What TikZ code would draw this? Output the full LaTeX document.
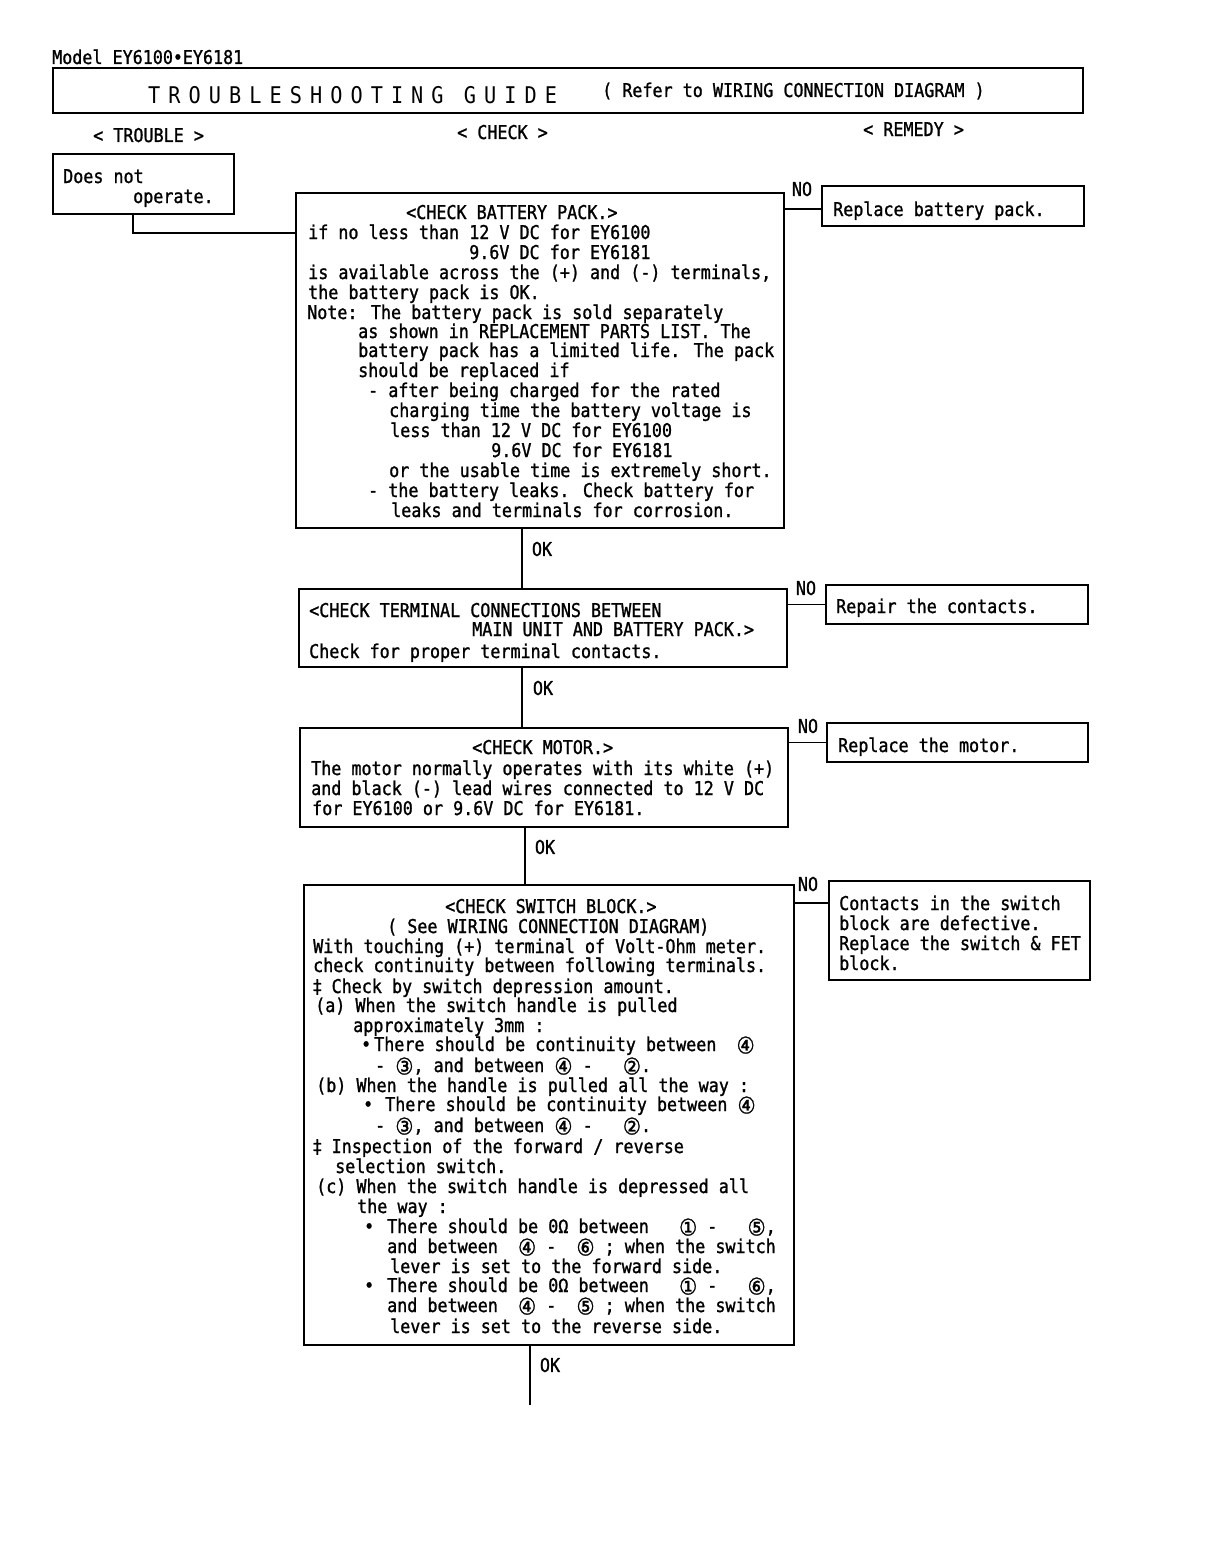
\documentclass[tikz,border=0pt]{standalone}
\usepackage{fontspec}
\newfontfamily\mono{DejaVu Sans Mono}[FakeStretch=0.88,FakeBold=1.2]
\newfontfamily\titlef{DejaVu Sans Mono}[FakeStretch=0.88,LetterSpace=35]
\newfontfamily\symf{DejaVu Sans}[FakeStretch=0.88,FakeBold=1.2]
\newcommand\cd[1]{{\symf #1}}
\newcommand\cn[1]{\smash{\raisebox{-2.5pt}{\symf\fontsize{23pt}{20pt}\selectfont #1}}}
\newcounter{lncnt}
\newcommand\tline[3]{\stepcounter{lncnt}\node[txt] (L\arabic{lncnt}) at (#1,#2) {#3};}
\tikzset{
  box/.style={draw, line width=1.4pt, inner sep=0pt, outer sep=0pt, anchor=north west},
  ln/.style={line width=1.2pt},
  txt/.style={anchor=base west, inner sep=0pt, font=\mono\fontsize{19pt}{20pt}\selectfont},
  lbl/.style={inner sep=0pt, font=\mono\fontsize{19pt}{20pt}\selectfont}
}
\begin{document}
\begin{tikzpicture}[x=1pt,y=-1pt]
\useasboundingbox (0,0) rectangle (1208,1552);
% header
\tline{52}{64}{Model EY6100\cd{•}EY6181}
\node[box, minimum width=1030pt, minimum height=45pt] (title) at (53,68) {};
\node[anchor=base west, inner sep=0pt, font=\titlef\fontsize{23pt}{24pt}\selectfont] (ttl) at (148,104) {TROUBLESHOOTING GUIDE};
\tline{602}{97}{( Refer to WIRING CONNECTION DIAGRAM )}
\tline{93}{142}{< TROUBLE >}
\tline{457}{139}{< CHECK >}
\tline{863}{136}{< REMEDY >}
% trouble
\node[box, line width=1.8pt, minimum width=181pt, minimum height=60pt] (t) at (53,154) {};
\tline{63}{183}{Does not}
\tline{133}{203}{operate.}
% boxes
\node[box, minimum width=488pt, minimum height=335pt] (b1) at (296,193) {};
\node[box, minimum width=488pt, minimum height=78pt] (b2) at (299,589) {};
\node[box, minimum width=488pt, minimum height=99pt] (b3) at (300,728) {};
\node[box, minimum width=490pt, minimum height=460pt] (b4) at (304,885) {};
\node[box, minimum width=262pt, minimum height=40pt] (r1) at (822,186) {};
\node[box, minimum width=262pt, minimum height=39pt] (r2) at (826,585) {};
\node[box, minimum width=261pt, minimum height=39pt] (r3) at (827,723) {};
\node[box, minimum width=261pt, minimum height=99pt] (r4) at (829,881) {};
% connectors
\coordinate (tj) at (133,233);
\draw[ln] (t.south -| tj) -- (tj) -- (b1.west |- tj);
\coordinate (k1) at (522,0);
\coordinate (k3) at (525,0);
\coordinate (k4) at (530,0);
\coordinate (endc) at (530,1405);
\draw[ln] (b1.south -| k1) -- (b2.north -| k1);
\draw[ln] (b2.south -| k1) -- (b3.north -| k1);
\draw[ln] (b3.south -| k3) -- (b4.north -| k3);
\draw[ln] (b4.south -| k4) -- (endc);
\coordinate (n1) at (0,209);
\coordinate (n4) at (0,903);
\draw[ln] (b1.east |- n1) -- (r1.west |- n1);
\draw[ln] (b2.east |- r2.west) -- (r2.west);
\draw[ln] (b3.east |- r3.west) -- (r3.west);
\draw[ln] (b4.east |- n4) -- (r4.west |- n4);
\node[lbl] (no1) at (802,189) {NO};
\node[lbl] (no2) at (806,588) {NO};
\node[lbl] (no3) at (808,726) {NO};
\node[lbl] (no4) at (808,884) {NO};
\node[lbl] (ok1) at (542,549) {OK};
\node[lbl] (ok2) at (543,688) {OK};
\node[lbl] (ok3) at (545,847) {OK};
\node[lbl] (ok4) at (550,1365) {OK};
% remedy texts
\tline{833}{216}{Replace battery pack.}
\tline{836}{613}{Repair the contacts.}
\tline{838}{752}{Replace the motor.}
\tline{839}{910}{Contacts in the switch}
\tline{839}{930}{block are defective.}
\tline{839}{950}{Replace the switch \& FET}
\tline{839}{970}{block.}
% box1 text
\tline{406}{219}{<CHECK BATTERY PACK.>}
\tline{308}{239}{if no less than 12 V DC for EY6100}
\tline{469}{259}{9.6V DC for EY6181}
\tline{308}{279}{is available across the (+) and (-) terminals,}
\tline{308}{299}{the battery pack is OK.}
\tline{307}{319}{Note: The battery pack is sold separately}
\tline{358}{338}{as shown in REPLACEMENT PARTS LIST. The}
\tline{358}{357}{battery pack has a limited life. The pack}
\tline{358}{377}{should be replaced if}
\tline{368}{397}{- after being charged for the rated}
\tline{389}{417}{charging time the battery voltage is}
\tline{390}{437}{less than 12 V DC for EY6100}
\tline{491}{457}{9.6V DC for EY6181}
\tline{389}{477}{or the usable time is extremely short.}
\tline{368}{497}{- the battery leaks. Check battery for}
\tline{391}{517}{leaks and terminals for corrosion.}
% box2 text
\tline{309}{617}{<CHECK TERMINAL CONNECTIONS BETWEEN}
\tline{472}{636}{MAIN UNIT AND BATTERY PACK.>}
\tline{309}{658}{Check for proper terminal contacts.}
% box3 text
\tline{472}{754}{<CHECK MOTOR.>}
\tline{311}{775}{The motor normally operates with its white (+)}
\tline{311}{795}{and black (-) lead wires connected to 12 V DC}
\tline{312}{815}{for EY6100 or 9.6V DC for EY6181.}
% box4 text
\tline{445}{913}{<CHECK SWITCH BLOCK.>}
\tline{387}{933}{( See WIRING CONNECTION DIAGRAM)}
\tline{313}{953}{With touching (+) terminal of Volt-Ohm meter.}
\tline{313}{972}{check continuity between following terminals.}
\tline{313}{993}{\cd{‡} Check by switch depression amount.}
\tline{315}{1012}{(a) When the switch handle is pulled}
\tline{353}{1032}{approximately 3mm :}
\tline{361}{1051}{\cd{•}}
\tline{374}{1051}{There should be continuity between~~\cn{④}}
\tline{375}{1072}{- \cn{③}, and between \cn{④} -~~~\cn{②}.}
\tline{316}{1092}{(b) When the handle is pulled all the way :}
\tline{363}{1111}{\cd{•}}
\tline{385}{1111}{There should be continuity between \cn{④}}
\tline{375}{1132}{- \cn{③}, and between \cn{④} -~~~\cn{②}.}
\tline{313}{1153}{\cd{‡} Inspection of the forward / reverse}
\tline{335}{1173}{selection switch.}
\tline{316}{1193}{(c) When the switch handle is depressed all}
\tline{357}{1213}{the way :}
\tline{364}{1233}{\cd{•}}
\tline{387}{1233}{There should be 0Ω between~~~\cn{①} -~~~\cn{⑤},}
\tline{387}{1253}{and between~~\cn{④} -~~\cn{⑥} ; when the switch}
\tline{390}{1273}{lever is set to the forward side.}
\tline{364}{1292}{\cd{•}}
\tline{387}{1292}{There should be 0Ω between~~~\cn{①} -~~~\cn{⑥},}
\tline{387}{1312}{and between~~\cn{④} -~~\cn{⑤} ; when the switch}
\tline{390}{1333}{lever is set to the reverse side.}
\end{tikzpicture}
\end{document}
